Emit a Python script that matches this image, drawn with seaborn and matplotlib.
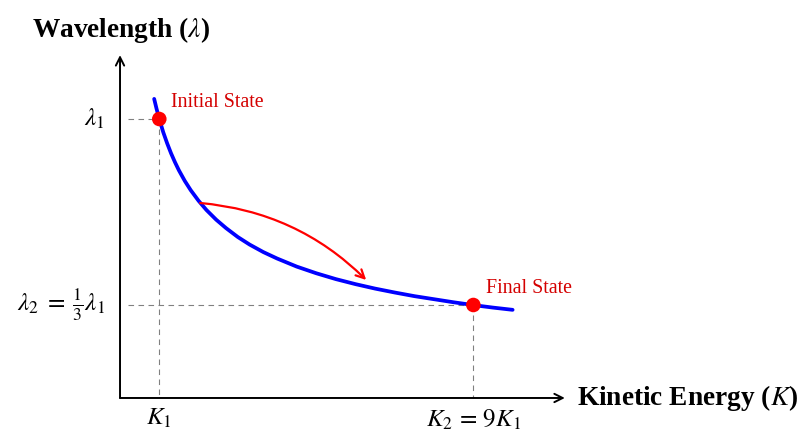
import numpy as np
import pandas as pd
import matplotlib
matplotlib.use("Agg")
import matplotlib.pyplot as plt
import seaborn as sns

# curve values (K in units of K1, lambda in units of lambda1)
kinetic = [0.87, 0.93, 1.0, 1.1, 1.2, 1.3, 1.4, 1.5, 1.65, 1.8, 2.0, 2.2, 2.45,
           2.7, 3.0, 3.3, 3.65, 4.0, 4.5, 5.0, 5.5, 6.0, 6.5, 7.0, 7.5, 8.0,
           8.5, 9.0, 9.5, 10.0]
wavelength = [1.072, 1.037, 1.0, 0.953, 0.913, 0.877, 0.845, 0.816, 0.778,
              0.745, 0.707, 0.674, 0.639, 0.609, 0.577, 0.550, 0.523, 0.500,
              0.471, 0.447, 0.426, 0.408, 0.392, 0.378, 0.365, 0.354, 0.343,
              0.333, 0.324, 0.316]

state_names = ["Initial State", "Final State"]
state_k = [1.0, 9.0]
state_lambda = [1.0, 1 / 3]

x_tick_labels = [r"$K_1$", r"$K_2\,=\,9K_1$"]
y_tick_labels = [r"$\lambda_1$", r"$\lambda_2\;=\;\frac{1}{3}\lambda_1$"]

sns.set_theme(style="white")
plt.rcParams["font.family"] = ["Liberation Serif", "DejaVu Serif"]
plt.rcParams["mathtext.fontset"] = "stix"
plt.rcParams["text.color"] = "black"

fig = plt.figure(figsize=(8, 4.32), dpi=100)
ax = fig.add_axes([0, 0, 1, 1])
ax.set_xlim(-3.057, 17.32)
ax.set_ylim(-0.1219, 1.4265)
ax.axis("off")

curve = pd.DataFrame({"K": kinetic, "lam": wavelength})
states = pd.DataFrame({"K": state_k, "lam": state_lambda, "name": state_names})

# dashed guides
for k, lam in zip(state_k, state_lambda):
    ax.plot([0.2, k], [lam, lam], color="gray", lw=0.8, ls=(0, (5, 4)), zorder=1)
    ax.plot([k, k], [lam, 0], color="gray", lw=0.8, ls=(0, (5, 4)), zorder=1)

sns.lineplot(data=curve, x="K", y="lam", ax=ax, color="blue", lw=2.7,
             sort=False, zorder=3, solid_joinstyle="round")
sns.scatterplot(data=states, x="K", y="lam", ax=ax, color="red", s=110,
                edgecolor="none", zorder=4)

# axes arrows
ax.annotate("", xy=(11.33, 0), xytext=(0, 0),
            arrowprops=dict(arrowstyle="->,head_length=0.5,head_width=0.25",
                            color="black", lw=1.4, shrinkA=0, shrinkB=0))
ax.annotate("", xy=(0, 1.229), xytext=(0, 0),
            arrowprops=dict(arrowstyle="->,head_length=0.5,head_width=0.25",
                            color="black", lw=1.4, shrinkA=0, shrinkB=0))

# transition arrow
ax.annotate("", xy=(6.27, 0.423), xytext=(2.04, 0.699),
            arrowprops=dict(arrowstyle="->,head_length=0.5,head_width=0.25",
                            color="red", lw=1.6, shrinkA=0, shrinkB=0,
                            connectionstyle="arc3,rad=-0.18"), zorder=5)

# state labels
ax.text(state_k[0] + 0.3, state_lambda[0] + 0.06, state_names[0],
        color="#d40000", fontsize=14.4, ha="left", va="center")
ax.text(state_k[1] + 0.33, state_lambda[1] + 0.06, state_names[1],
        color="#d40000", fontsize=14.4, ha="left", va="center")

# tick labels
ax.text(-0.38, state_lambda[0], y_tick_labels[0], fontsize=18, ha="right", va="center")
ax.text(-0.38, state_lambda[1], y_tick_labels[1], fontsize=18, ha="right", va="center")
ax.text(state_k[0], -0.072, x_tick_labels[0], fontsize=18, ha="center", va="center")
ax.text(state_k[1], -0.078, x_tick_labels[1], fontsize=18, ha="center", va="center")

# axis titles
ax.text(-2.25, 1.32, r"Wavelength ($\lambda$)", fontsize=19.7, fontweight="bold",
        ha="left", va="center")
ax.text(11.65, 0.0, r"Kinetic Energy ($K$)", fontsize=19.7, fontweight="bold",
        ha="left", va="center")

fig.savefig("out.png", dpi=100)
